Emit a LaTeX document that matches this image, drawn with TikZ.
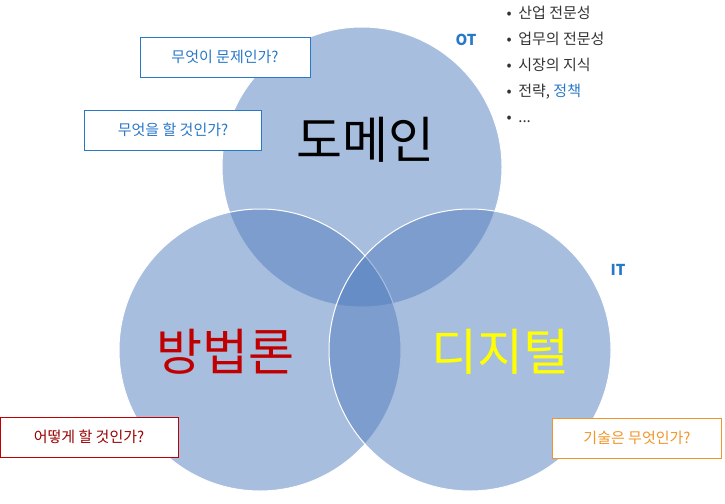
\documentclass[tikz,border=0pt]{standalone}
\usepackage{fontspec}
\setmainfont{Noto Sans CJK KR}
\begin{document}
\begin{tikzpicture}[x=1pt,y=-1pt,
  circ/.style={fill={rgb,255:red,81;green,125;blue,189},fill opacity=0.5,draw=white,line width=1pt},
  box/.style={draw,line width=0.8pt,fill=white,inner xsep=6pt,minimum height=40pt,font=\fontsize{15}{17}\selectfont},
  big/.style={font=\fontsize{50}{55}\selectfont}]
\definecolor{bl}{RGB}{40,120,200}
\definecolor{rd}{RGB}{192,0,0}
\definecolor{og}{RGB}{240,150,40}
\definecolor{ye}{RGB}{255,255,0}
\useasboundingbox (0,0) rectangle (725,503);
\path[circ] (362,167) circle (140);
\path[circ] (260,350) circle (141);
\path[circ] (470,350) circle (141);
\node[big] (dom) at (365,140) {도메인};
\node[big,text=rd] (met) at (225,352) {방법론};
\node[big,text=ye] (dig) at (500,352) {디지털};
\node[box,draw=bl,text=bl,minimum width=170pt] (q1) at (225,57) {무엇이 문제인가?};
\node[box,draw=bl,text=bl,minimum width=177pt] (q2) at (173,130) {무엇을 할 것인가?};
\node[box,draw=rd,text=rd!80!black,minimum width=178pt] (q3) at (89,437) {어떻게 할 것인가?};
\node[box,draw=og,text=og,minimum width=169pt] (q4) at (637,438) {기술은 무엇인가?};
\node[text=bl,font=\bfseries\fontsize{15}{17}\selectfont] (ot) at (466,40) {OT};
\node[text=bl,font=\bfseries\fontsize{15}{17}\selectfont] (it) at (618,270) {IT};
\node[anchor=north west,align=left,font=\fontsize{15}{26}\selectfont,text=black!80] (lst) at (503,3) {%
• \ 산업 전문성\\ • \ 업무의 전문성\\ • \ 시장의 지식\\ • \ 전략, \textcolor{bl}{정책}\\ • \ ...};
\end{tikzpicture}
\end{document}
